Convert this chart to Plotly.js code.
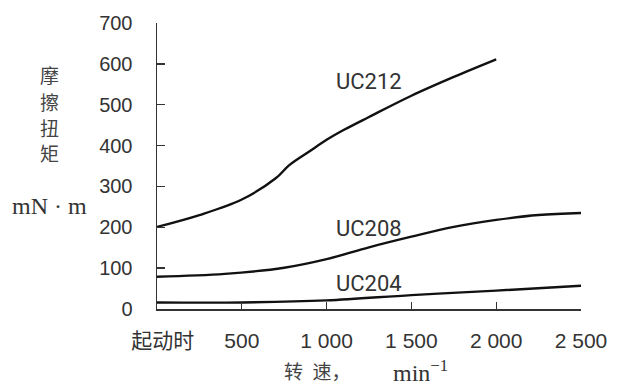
<!DOCTYPE html>
<html>
<head>
<meta charset="utf-8">
<script src="https://cdn.plot.ly/plotly-3.0.1.min.js"></script>
<style>html,body{margin:0;padding:0;background:#fff;}#chart{width:617px;height:385px;}</style>
</head>
<body>
<div id="chart"></div>
<script>
// ---- data ----
const speedUC212 = [0, 250, 500, 700, 780, 900, 1000, 1100, 1250, 1500, 1750, 2000];
const torqueUC212 = [201, 230, 268, 320, 352, 386, 414, 438, 470, 522, 568, 611];

const speedUC208 = [0, 400, 750, 1000, 1250, 1500, 1750, 2000, 2250, 2500];
const torqueUC208 = [79, 86, 101, 122, 151, 177, 201, 218, 230, 235];

const speedUC204 = [0, 500, 1000, 1500, 2000, 2500];
const torqueUC204 = [16, 16, 21, 34, 45, 57];

const seriesNames = ["UC212", "UC208", "UC204"];
const xTickVals = [0, 500, 1000, 1500, 2000, 2500];
const xTickText = ["\u00a0\u00a0起动时", "500", "1 000", "1 500", "2 000", "2 500"];
const yTickVals = [0, 100, 200, 300, 400, 500, 600, 700];
const yTitleChars = ["摩", "擦", "扭", "矩"];
const yUnit = "mN · m";
const xTitleCn = "转\u2002速，";
const xTitleUnit = "min<sup>−1</sup>";

// ---- layout helpers (pixel -> paper) ----
const W = 617, H = 385;
const M = {l: 157, r: 36, t: 23, b: 76};
const PW = W - M.l - M.r, PH = H - M.t - M.b;
const px = x => (x - M.l) / PW;
const py = y => (H - M.b - y) / PH;

const lineStyle = {color: '#111', width: 2.4, shape: 'spline', smoothing: 1};
const traces = [
  {x: speedUC212, y: torqueUC212, name: seriesNames[0], mode: 'lines', line: lineStyle},
  {x: speedUC208, y: torqueUC208, name: seriesNames[1], mode: 'lines', line: lineStyle},
  {x: speedUC204, y: torqueUC204, name: seriesNames[2], mode: 'lines', line: lineStyle}
];

const labelFont = {family: 'Roboto, "Liberation Sans", sans-serif', size: 22, color: '#333'};
const cjkFont = {family: '"Noto Sans CJK SC", sans-serif', size: 19, color: '#444'};
const serifFont = {family: '"Liberation Serif", "Times New Roman", serif', size: 24, color: '#333'};

const annotations = [
  {x: 1251, y: 557, xref: 'x', yref: 'y', text: seriesNames[0], showarrow: false, font: labelFont, xanchor: 'center', yanchor: 'middle'},
  {x: 1251, y: 196, xref: 'x', yref: 'y', text: seriesNames[1], showarrow: false, font: labelFont, xanchor: 'center', yanchor: 'middle'},
  {x: 1251, y: 62, xref: 'x', yref: 'y', text: seriesNames[2], showarrow: false, font: labelFont, xanchor: 'center', yanchor: 'middle'}
];
const charY = [75, 101, 127, 152];
yTitleChars.forEach((c, i) => annotations.push({
  x: px(50), y: py(charY[i]), xref: 'paper', yref: 'paper', text: c, showarrow: false,
  font: cjkFont, xanchor: 'center', yanchor: 'middle'
}));
annotations.push({x: px(50), y: py(206), xref: 'paper', yref: 'paper', text: yUnit, showarrow: false,
  font: serifFont, xanchor: 'center', yanchor: 'middle'});
annotations.push({x: px(282), y: py(371), xref: 'paper', yref: 'paper', text: xTitleCn, showarrow: false,
  font: cjkFont, xanchor: 'left', yanchor: 'middle'});
annotations.push({x: px(391), y: py(371), xref: 'paper', yref: 'paper', text: xTitleUnit, showarrow: false,
  font: serifFont, xanchor: 'left', yanchor: 'middle'});

const axisCommon = {
  showline: true, linecolor: '#333', linewidth: 1.5, mirror: false,
  ticks: 'inside', tickcolor: '#333', tickwidth: 1.3,
  showgrid: false, zeroline: false, fixedrange: true
};

const layout = {
  width: W, height: H,
  margin: {l: M.l, r: M.r, t: M.t, b: M.b, pad: 0},
  paper_bgcolor: '#fff', plot_bgcolor: '#fff',
  showlegend: false,
  xaxis: Object.assign({}, axisCommon, {
    range: [0, 2500], tickmode: 'array', tickvals: xTickVals, ticktext: xTickText,
    ticklen: 7, ticklabelstandoff: 12,
    tickfont: {family: '"Liberation Sans", "Noto Sans CJK SC", Arial, sans-serif', size: 21, color: '#333'}
  }),
  yaxis: Object.assign({}, axisCommon, {
    range: [0, 700], tickmode: 'array', tickvals: yTickVals,
    ticklen: 8, ticklabelstandoff: 19,
    tickfont: {family: '"Liberation Sans", Arial, sans-serif', size: 20, color: '#333'}
  }),
  annotations: annotations
};

Plotly.newPlot('chart', traces, layout, {staticPlot: true, displayModeBar: false});
</script>
</body>
</html>
